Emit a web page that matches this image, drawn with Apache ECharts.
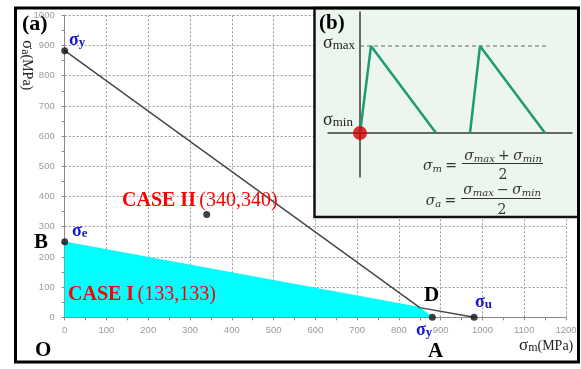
<!DOCTYPE html>
<html><head><meta charset="utf-8">
<script src="https://cdn.jsdelivr.net/npm/echarts@6/dist/echarts.min.js"></script>
<style>html,body{margin:0;padding:0;background:#fff;}#c{width:581px;height:369px;}</style>
</head><body><div id="c"></div>
<script>
// ---- main diagram data (σm, σa in MPa) ----
const xTicks = [0,100,200,300,400,500,600,700,800,900,1000,1100,1200];
const yTicks = [0,100,200,300,400,500,600,700,800,900,1000];
const limitLineX = [0, 850, 980];
const limitLineY = [883, 32, 0];
const safeAreaX = [0, 850, 880];
const safeAreaY = [250, 33, 0];
const pointX = [0, 0, 880, 980, 340];
const pointY = [883, 250, 0, 0, 340];
// ---- inset (b) loading-cycle data (normalised) ----
const cycle1X = [0, 1.1, 7.6];
const cycle1Y = [0, 1, 0];
const cycle2X = [11, 12, 18.5];
const cycle2Y = [0, 1, 0];
const maxLineX = [0, 18.7];
const maxLineY = [1, 1];

const zip = (a,b) => a.map((v,i)=>[v,b[i]]);
const chart = echarts.init(document.getElementById('c'), null, {renderer:'canvas'});
const serif = 'Liberation Serif';
const blue = '#1414d4';
const red = '#ff0000';
const tickFont = {color:'#9a9a9a', fontSize:9.5, fontFamily:'Liberation Sans', formatter:(v)=>String(v)};

function sigma(x, y, sub, color, size, subSize, bold, extra) {
  return Object.assign({type:'text', z:40, x:x, y:y, style:{
    text:'{s|σ}{b|'+sub+'}',
    rich:{ s:{fontFamily:serif, fontSize:size, fontWeight:bold?'bold':'normal', fill:color},
           b:{fontFamily:serif, fontSize:subSize, fontWeight:bold?'bold':'normal', fill:color, padding:[Math.round(size*0.35),0,0,0]} },
    fill:color, verticalAlign:'middle'}}, extra||{});
}
function fracText(x, y, txt, extra) {
  return Object.assign({type:'text', z:40, x:x, y:y, style:{
    text:txt, align:'center', verticalAlign:'middle',
    rich:{ s:{fontFamily:'DejaVu Serif', fontStyle:'italic', fontSize:14, fill:'#333'},
           b:{fontFamily:'DejaVu Serif', fontStyle:'italic', fontSize:10, fill:'#333', padding:[6,0,0,0]},
           o:{fontFamily:'DejaVu Serif', fontSize:14, fill:'#333'} } }}, extra||{});
}

const option = {
  animation:false,
  backgroundColor:'#fff',
  grid:[
    {left:64.7, right:15, top:15.3, bottom:51.7, containLabel:false},
    {left:328, right:9, top:12, bottom:192, containLabel:false, z:20}
  ],
  xAxis:[
    {type:'value', gridIndex:0, min:xTicks[0], max:xTicks[xTicks.length-1], interval:100,
     axisLine:{lineStyle:{color:'#8a8a8a', width:1}},
     axisTick:{show:true, length:3, lineStyle:{color:'#8a8a8a'}},
     minorTick:{show:true, splitNumber:2, length:3, lineStyle:{color:'#8a8a8a'}},
     axisLabel:Object.assign({margin:8}, tickFont),
     splitLine:{show:true, lineStyle:{color:'#9a9a9a', type:[2,2], width:1}}},
    {type:'value', gridIndex:1, min:-3.2, max:21.2, z:20,
     axisLine:{show:true, onZero:true, lineStyle:{color:'#3a3a3a', width:1.5}},
     axisTick:{show:false}, axisLabel:{show:false}, splitLine:{show:false}}
  ],
  yAxis:[
    {type:'value', gridIndex:0, min:yTicks[0], max:yTicks[yTicks.length-1], interval:100,
     axisLine:{show:true, lineStyle:{color:'#8a8a8a', width:1}},
     axisTick:{show:true, length:3, lineStyle:{color:'#8a8a8a'}},
     minorTick:{show:true, splitNumber:2, length:3, lineStyle:{color:'#8a8a8a'}},
     axisLabel:Object.assign({margin:10}, tickFont),
     splitLine:{show:true, lineStyle:{color:'#9a9a9a', type:[2,2], width:1}}},
    {type:'value', gridIndex:1, min:-0.506, max:1.391, z:20,
     axisLine:{show:true, onZero:true, lineStyle:{color:'#3a3a3a', width:1.5}},
     axisTick:{show:false}, axisLabel:{show:false}, splitLine:{show:false}}
  ],
  series:[
    {type:'line', xAxisIndex:0, yAxisIndex:0, data:zip(safeAreaX, safeAreaY), symbol:'none',
     lineStyle:{width:0.5, color:'#00e8ee'}, areaStyle:{color:'#00ffff', opacity:1}, z:2},
    {type:'line', xAxisIndex:0, yAxisIndex:0, data:zip(limitLineX, limitLineY), symbol:'none',
     lineStyle:{width:1.4, color:'#444'}, z:3},
    {type:'scatter', xAxisIndex:0, yAxisIndex:0, data:zip(pointX, pointY), symbolSize:7,
     itemStyle:{color:'#111'}, z:4},
    {type:'line', xAxisIndex:1, yAxisIndex:1, data:zip(maxLineX, maxLineY), symbol:'none',
     lineStyle:{width:1, color:'#666', type:[4,3]}, z:21},
    {type:'line', xAxisIndex:1, yAxisIndex:1, data:zip(cycle1X, cycle1Y), symbol:'none',
     lineStyle:{width:2.5, color:'#1f9b74'}, z:22},
    {type:'line', xAxisIndex:1, yAxisIndex:1, data:zip(cycle2X, cycle2Y), symbol:'none',
     lineStyle:{width:2.5, color:'#1f9b74'}, z:22},
    {type:'scatter', xAxisIndex:1, yAxisIndex:1, data:[[0,0]], symbolSize:14,
     itemStyle:{color:'#d10000'}, z:23}
  ],
  graphic:[
    // inset panel background
    {type:'rect', z:10, shape:{x:314.5, y:8, width:264, height:209},
     style:{fill:'#ecf6ef', stroke:'#111', lineWidth:2.5}},
    // outer frame
    {type:'rect', z:50, shape:{x:15.5, y:8, width:563, height:354},
     style:{fill:'none', stroke:'#000', lineWidth:3}},
    // labels main
    {type:'text', z:40, x:22, y:24, style:{text:'(a)', fontFamily:serif, fontWeight:'bold', fontSize:22, fill:'#000', verticalAlign:'middle'}},
    {type:'text', z:40, x:35, y:351, style:{text:'O', fontFamily:serif, fontWeight:'bold', fontSize:21, fill:'#000', verticalAlign:'middle'}},
    {type:'text', z:40, x:34, y:243, style:{text:'B', fontFamily:serif, fontWeight:'bold', fontSize:21, fill:'#000', verticalAlign:'middle'}},
    {type:'text', z:40, x:428, y:352, style:{text:'A', fontFamily:serif, fontWeight:'bold', fontSize:21, fill:'#000', verticalAlign:'middle'}},
    {type:'text', z:40, x:424, y:296, style:{text:'D', fontFamily:serif, fontWeight:'bold', fontSize:21, fill:'#000', verticalAlign:'middle'}},
    sigma(69, 40, 'y', blue, 18, 13, true),
    sigma(72, 231, 'e', blue, 18, 13, true),
    sigma(475, 302, 'u', blue, 18, 13, true),
    sigma(416, 330, 'y', blue, 18, 13, true),
    {type:'text', z:40, x:122, y:201, style:{text:'{b|CASE II} {r|(340,340)}', verticalAlign:'middle',
      rich:{b:{fontFamily:serif, fontWeight:'bold', fontSize:20, fill:red}, r:{fontFamily:serif, fontSize:20, fill:red}}}},
    {type:'text', z:40, x:68, y:295, style:{text:'{b|CASE I} {r|(133,133)}', verticalAlign:'middle',
      rich:{b:{fontFamily:serif, fontWeight:'bold', fontSize:20, fill:red}, r:{fontFamily:serif, fontSize:20, fill:red}}}},
    // axis titles
    {type:'text', z:40, x:519, y:346, style:{text:'{s|σ}{b|m}{r|(MPa)}', verticalAlign:'middle',
      rich:{s:{fontFamily:serif, fontSize:17, fill:'#222'}, b:{fontFamily:serif, fontSize:12, fill:'#222', padding:[3,0,0,0]}, r:{fontFamily:serif, fontSize:14, fill:'#222'}}}},
    {type:'text', z:40, x:27, y:40, rotation:-Math.PI/2, style:{text:'{s|σ}{b|a}{r|(MPa)}', verticalAlign:'middle',
      rich:{s:{fontFamily:serif, fontSize:17, fill:'#222'}, b:{fontFamily:serif, fontSize:12, fill:'#222', padding:[3,0,0,0]}, r:{fontFamily:serif, fontSize:14, fill:'#222'}}}},
    // inset labels
    {type:'text', z:40, x:319, y:24, style:{text:'(b)', fontFamily:serif, fontWeight:'bold', fontSize:21, fill:'#000', verticalAlign:'middle'}},
    sigma(323, 43, 'max', '#222', 18, 13, false),
    sigma(323, 120, 'min', '#222', 18, 13, false),
    fracText(440, 166, '{s|σ}{b|m} {o|=}'),
    fracText(503, 156, '{s|σ}{b|max} {o|+} {s|σ}{b|min}'),
    {type:'line', z:40, shape:{x1:462, y1:163.5, x2:543, y2:163.5}, style:{stroke:'#333', lineWidth:1.2}},
    fracText(503, 175, '{o|2}'),
    fracText(441, 201, '{s|σ}{b|a} {o|=}'),
    fracText(502, 190, '{s|σ}{b|max} {o|−} {s|σ}{b|min}'),
    {type:'line', z:40, shape:{x1:461, y1:198.5, x2:541, y2:198.5}, style:{stroke:'#333', lineWidth:1.2}},
    fracText(502, 210, '{o|2}')
  ]
};
chart.setOption(option);
</script></body></html>
